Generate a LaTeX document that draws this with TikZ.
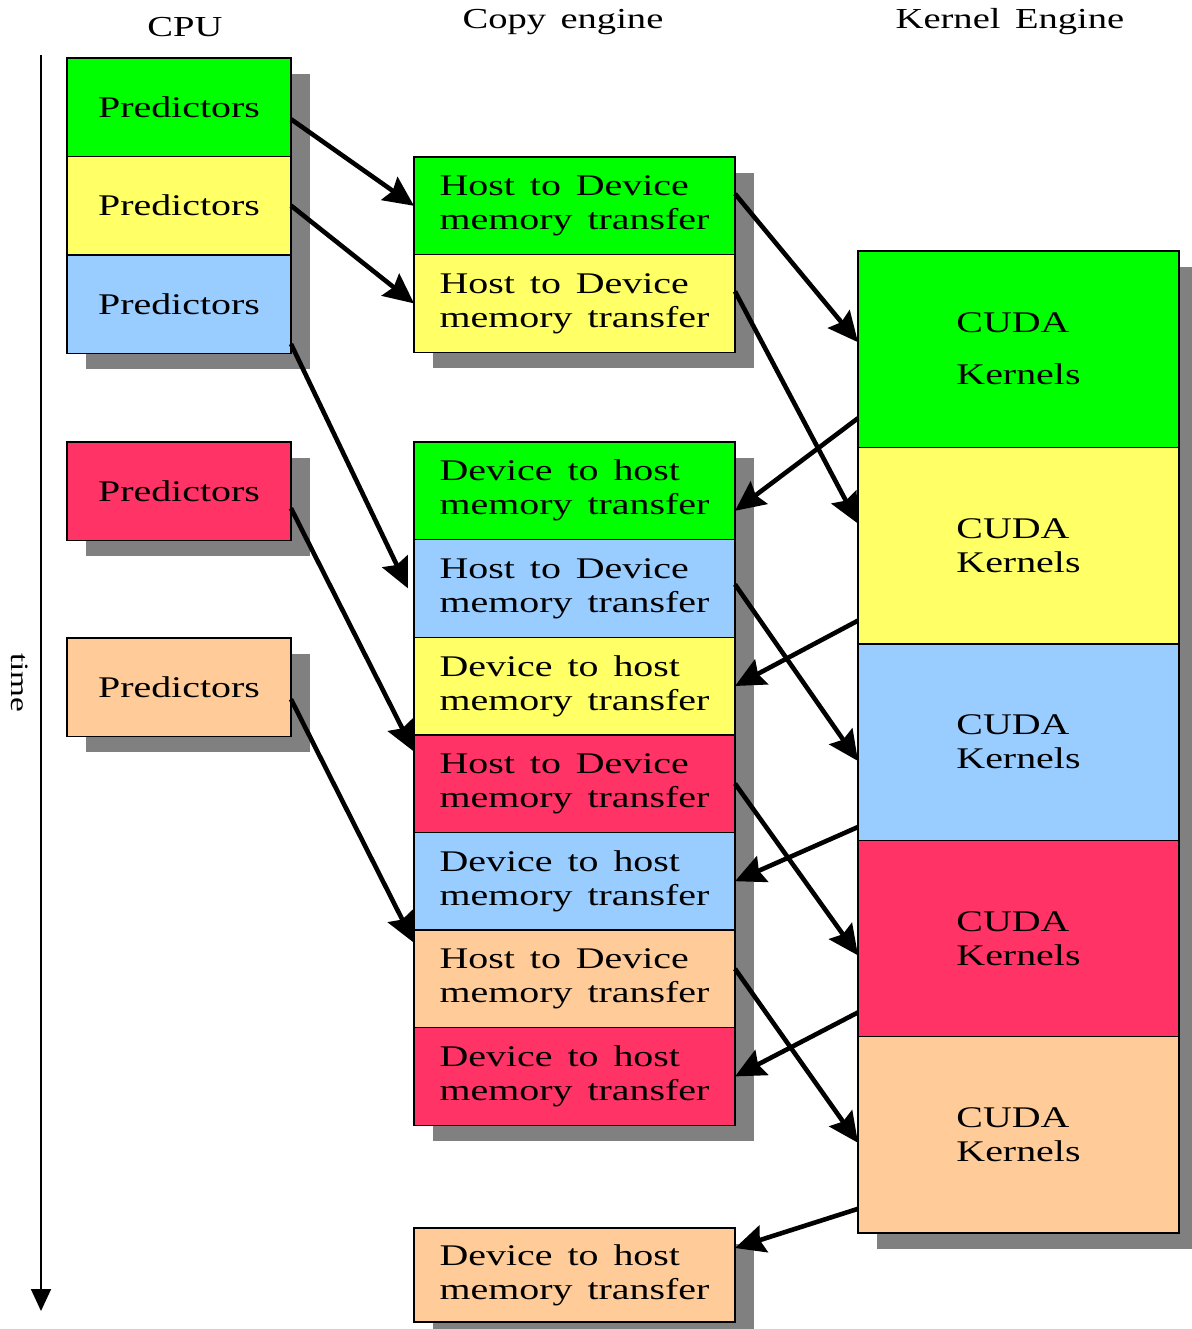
\documentclass[tikz,border=0pt]{standalone}
\usepackage{fontspec}
\setmainfont{Liberation Serif}[FakeStretch=1.33,WordSpace=1.5]
\usetikzlibrary{positioning,arrows.meta,shadows}
\definecolor{bgreen}{HTML}{00FF00}
\definecolor{byellow}{HTML}{FFFF66}
\definecolor{bblue}{HTML}{99CCFF}
\definecolor{bred}{HTML}{FF3366}
\definecolor{borange}{HTML}{FFCC99}
\tikzset{
  blk/.style  = {rectangle, draw, line width=0.7pt, outer sep=0pt, inner sep=0pt,
                 font=\fontsize{15}{17}\selectfont,
                 drop shadow={shadow xshift=9.5pt, shadow yshift=-8pt,
                              fill=black!50, opacity=1}},
  cpu/.style  = {blk, minimum width=112pt, minimum height=49.2pt},
  copy/.style = {blk, minimum width=160.5pt, minimum height=48.8pt, align=left},
  kern/.style = {blk, minimum width=160.5pt, minimum height=98.2pt, align=left},
  arr/.style  = {-{Stealth[length=15pt,width=14pt,inset=2pt]}, line width=2.3pt},
  hdr/.style  = {font=\fontsize{14.5}{17}\selectfont}
}
\begin{document}
\begin{tikzpicture}[x=0.5pt,y=-0.5pt]
  \useasboundingbox (0,0) rectangle (1191,1329);

  % headers and time axis
  \node[hdr] (hcpu) at (185,27) {CPU};
  \node[hdr] (hcopy) at (563,22) {Copy engine};
  \node[hdr] (hkern) at (1010,22) {Kernel Engine};
  \coordinate (tTop) at (41,55);
  \coordinate (tEnd) at (41,1311);
  \draw[-{Triangle[length=11pt,width=10pt]}, line width=0.9pt] (tTop) -- (tEnd);
  \node[font=\fontsize{12.5}{14}\selectfont, rotate=-90] (tlab) at (20,683) {time};

  % CPU
  \node[cpu, fill=bgreen, anchor=north west] (cpu1) at (67,58) {Predictors};
  \node[cpu, fill=byellow, below=0pt of cpu1] (cpu2) {Predictors};
  \node[cpu, fill=bblue, below=0pt of cpu2] (cpu3) {Predictors};
  \node[cpu, fill=bred, anchor=north west] (cpu4) at (67,442) {Predictors};
  \node[cpu, fill=borange, anchor=north west] (cpu5) at (67,638) {Predictors};

  % copy engine
  \node[copy, fill=bgreen, anchor=north west] (h2dA) at (414,157) {Host to Device\\memory transfer};
  \node[copy, fill=byellow, below=0pt of h2dA] (h2dB) {Host to Device\\memory transfer};
  \node[copy, fill=bgreen, anchor=north west] (d2hA) at (414,442) {Device to host\\memory transfer};
  \node[copy, fill=bblue, below=0pt of d2hA] (h2dC) {Host to Device\\memory transfer};
  \node[copy, fill=byellow, below=0pt of h2dC] (d2hB) {Device to host\\memory transfer};
  \node[copy, fill=bred, below=0pt of d2hB] (h2dD) {Host to Device\\memory transfer};
  \node[copy, fill=bblue, below=0pt of h2dD] (d2hC) {Device to host\\memory transfer};
  \node[copy, fill=borange, below=0pt of d2hC] (h2dE) {Host to Device\\memory transfer};
  \node[copy, fill=bred, below=0pt of h2dE] (d2hD) {Device to host\\memory transfer};
  \node[copy, fill=borange, minimum height=47pt, anchor=north west] (d2hE) at (414,1228) {Device to host\\memory transfer};

  % kernel engine
  \node[kern, fill=bgreen, anchor=north west] (kA) at (858,251) {CUDA\\[9pt]Kernels};
  \node[kern, fill=byellow, below=0pt of kA] (kB) {CUDA\\Kernels};
  \node[kern, fill=bblue, below=0pt of kB] (kC) {CUDA\\Kernels};
  \node[kern, fill=bred, below=0pt of kC] (kD) {CUDA\\Kernels};
  \node[kern, fill=borange, below=0pt of kD] (kE) {CUDA\\Kernels};

  % CPU -> copy engine
  \draw[arr] ([yshift=-6pt]cpu1.east) -- (h2dA.west);
  \draw[arr] (cpu2.east) -- (h2dB.west);
  \draw[arr] ([yshift=-20pt]cpu3.east) -- ([xshift=-3pt]h2dC.west);
  \draw[arr] ([yshift=-8.5pt]cpu4.east) -- ([yshift=16pt]h2dD.west);
  \draw[arr] ([yshift=-6pt]cpu5.east) -- ([yshift=18pt]h2dE.west);

  % copy engine <-> kernels
  \draw[arr] ([yshift=6pt]h2dA.east) -- ([yshift=3.5pt]kA.west);
  \draw[arr] ([yshift=6pt]h2dB.east) -- ([yshift=11pt]kB.west);
  \draw[arr] ([yshift=-34.5pt]kA.west) -- ([yshift=-10pt]d2hA.east);
  \draw[arr] ([yshift=2pt]h2dC.east) -- ([yshift=-9.5pt]kC.west);
  \draw[arr] ([yshift=-37.5pt]kB.west) -- (d2hB.east);
  \draw[arr] (h2dD.east) -- ([yshift=-8.5pt]kD.west);
  \draw[arr] ([yshift=-42.5pt]kC.west) -- (d2hC.east);
  \draw[arr] ([yshift=5pt]h2dE.east) -- ([yshift=-4pt]kE.west);
  \draw[arr] ([yshift=-37pt]kD.west) -- (d2hD.east);
  \draw[arr] ([yshift=-37pt]kE.west) -- ([yshift=13.5pt]d2hE.east);
\end{tikzpicture}
\end{document}
